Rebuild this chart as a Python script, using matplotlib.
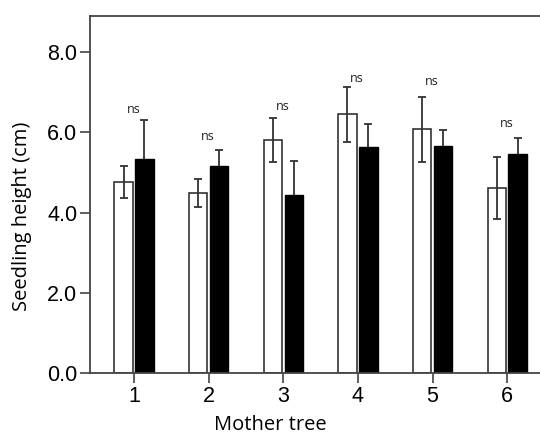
import numpy as np
import matplotlib.pyplot as plt

trees = [1, 2, 3, 4, 5, 6]
white_mean = [4.76, 4.48, 5.80, 6.45, 6.08, 4.62]
white_err = [0.40, 0.35, 0.55, 0.69, 0.81, 0.77]
black_mean = [5.33, 5.15, 4.44, 5.63, 5.66, 5.46]
black_err = [0.98, 0.41, 0.85, 0.58, 0.39, 0.39]
ns_y = [6.58, 5.90, 6.64, 7.33, 7.26, 6.21]
yticks = [0.0, 2.0, 4.0, 6.0, 8.0]

fig = plt.figure(figsize=(5.4, 4.37), dpi=100)
ax = fig.add_axes([90/540, 64/437, 450/540, 357/437])

x = np.array(trees, dtype=float)
w = 0.245
ekw = dict(ecolor="#333333", elinewidth=1.3, capsize=3, capthick=1.3)
ax.bar(x - 0.14, white_mean, w, color="white", edgecolor="#333333",
       linewidth=1.2, yerr=white_err, error_kw=ekw, zorder=2)
# black bars sit on top of their whiskers so only the upper half shows
ax.errorbar(x + 0.14, black_mean, yerr=black_err, fmt="none", zorder=1, **ekw)
ax.bar(x + 0.14, black_mean, w, color="black", edgecolor="black",
       linewidth=1.0, zorder=2)

for xi, yi in zip(x, ns_y):
    ax.text(xi - 0.01, yi, "ns", ha="center", va="center",
            fontsize=9, family="Open Sans", color="#222222")

ax.set_xlim(0.41, 6.44)
ax.set_ylim(0, 8.9)
ax.set_xticks(x)
ax.set_xticklabels([str(t) for t in trees])
ax.set_yticks(yticks)
ax.set_yticklabels([f"{v:.1f}" for v in yticks])
for lab in ax.get_xticklabels() + ax.get_yticklabels():
    lab.set_family("Liberation Sans")
    lab.set_fontsize(15.5)
ax.tick_params(direction="out", length=7, width=1.2, color="#444444", pad=2)

for s in ["left", "top", "bottom"]:
    ax.spines[s].set_color("#444444")
    ax.spines[s].set_linewidth(1.3)
ax.spines["right"].set_visible(False)

ax.set_xlabel("Mother tree", family="Open Sans", fontsize=14.5)
ax.set_ylabel("Seedling height (cm)", family="Open Sans", fontsize=14.5)
ax.xaxis.set_label_coords((270 - 90) / 450, -(425 - 373) / 357)
ax.yaxis.set_label_coords(-(90 - 22) / 450, (373 - 216) / 357)
ax.xaxis.label.set_va("center")
ax.yaxis.label.set_va("center")

plt.savefig("out.png", dpi=100)
